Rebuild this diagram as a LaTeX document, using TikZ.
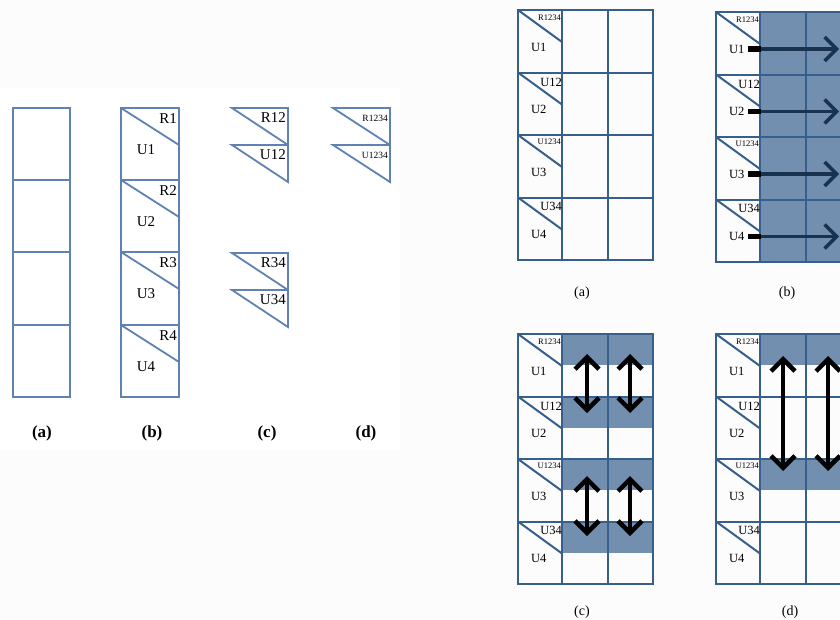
\documentclass[tikz,border=0pt]{standalone}
\usepackage{fontspec}
\setmainfont{Liberation Serif}
\usetikzlibrary{arrows.meta}
\definecolor{gridc}{RGB}{55,95,140}
\definecolor{leftc}{RGB}{95,130,178}
\definecolor{shadec}{RGB}{115,143,175}
\definecolor{navyc}{RGB}{25,50,80}
\definecolor{bgc}{RGB}{252,252,252}
\tikzset{
  leftline/.style={draw=leftc, line width=1.8pt},
  gridline/.style={draw=gridc, line width=2pt},
  biglbl/.style={inner sep=0pt, font=\fontsize{15}{17}\selectfont},
  smalllbl/.style={inner sep=0pt, font=\fontsize{9.5}{10}\selectfont},
  lbl/.style={inner sep=0pt, font=\fontsize{12.5}{14}\selectfont},
  tinylbl/.style={inner sep=0pt, font=\fontsize{8.5}{9}\selectfont},
  capleft/.style={inner sep=0pt, font=\fontsize{17}{19}\selectfont\bfseries},
  capright/.style={inner sep=0pt, font=\fontsize{14}{16}\selectfont},
  barb/.tip={Straight Barb[length=12pt,width=24pt]},
  harrow/.style={draw=navyc, line width=3.5pt, -{barb}},
  vharrow/.style={draw=black, line width=4.5pt, {barb}-{barb}},
}
\begin{document}
\begin{tikzpicture}[x=1pt,y=-1pt]
\useasboundingbox (0,0) rectangle (840,619);
\fill[bgc] (0,0) rectangle (840,619);
\fill[white] (0,88) rectangle (400,450);

% ---------------- left figure ----------------
% (a)
\draw[leftline] (13,108) rectangle (70,397);
\foreach \y in {180,252,325} \draw[leftline] (13,\y) -- (70,\y);
% (b)
\draw[leftline] (121,108) rectangle (179,397);
\foreach \y in {180,252,325} \draw[leftline] (121,\y) -- (179,\y);
\foreach \y/\i in {108/1,180/2,252/3,325/4}{
  \draw[leftline] (121,\y) -- (179,\y+37);
  \node[biglbl, anchor=east] (lbR\i) at (177,\y+11) {R\i};
  \node[biglbl] (lbU\i) at (146,\y+42) {U\i};
}
% (c)
\foreach \y/\t in {108/R12,145/U12,253/R34,290/U34}{
  \draw[leftline] (232,\y) -- (288,\y) -- (288,\y+37) -- cycle;
  \node[biglbl, anchor=east] (lc\t) at (286,\y+10) {\t};
}
% (d)
\foreach \y/\t in {108/R1234,145/U1234}{
  \draw[leftline] (333,\y) -- (390,\y) -- (390,\y+37) -- cycle;
  \node[smalllbl, anchor=east] (ld\t) at (388,\y+10) {\t};
}
\node[capleft] (capLa) at (42,433) {(a)};
\node[capleft] (capLb) at (152,433) {(b)};
\node[capleft] (capLc) at (267,433) {(c)};
\node[capleft] (capLd) at (366,433) {(d)};

% ---------------- right figure ----------------
% shading
\fill[shadec] (760,12) rectangle (900,262);
\foreach \k in {0,1,2,3} \fill[shadec] (563,334+\k*62.5) rectangle (653,365+\k*62.5);
\foreach \k in {0,2} \fill[shadec] (760,334+\k*62.5) rectangle (900,365+\k*62.5);

% grids
\foreach \L/\T/\R in {518/10/653, 716/12/900, 518/334/653, 716/334/900}{
  \draw[gridline] (\L,\T) rectangle (\R,\T+250);
  \foreach \k in {1,2,3} \draw[gridline] (\L,\T+\k*62.5) -- (\R,\T+\k*62.5);
  \foreach \c in {44,90,135} \draw[gridline] (\L+\c,\T) -- (\L+\c,\T+250);
  \foreach \k in {0,1,2,3} \draw[gridline] (\L,\T+\k*62.5) -- (\L+44,\T+\k*62.5+32);
}

% labels in the first columns
\foreach \L/\T/\p in {518/10/a, 716/12/b, 518/334/c, 716/334/d}{
  \node[tinylbl, anchor=east] (t\p1) at (\L+43,\T+8) {R1234};
  \node[lbl, anchor=east] (t\p2) at (\L+44,\T+62.5+10) {U12};
  \node[tinylbl, anchor=east] (t\p3) at (\L+43,\T+125+7) {U1234};
  \node[lbl, anchor=east] (t\p4) at (\L+44,\T+187.5+9) {U34};
  \foreach \k/\i in {0/1,1/2,2/3,3/4}
    \node[lbl, anchor=west] (u\p\i) at (\L+13,\T+\k*62.5+37) {U\i};
}

% (b) horizontal arrows
\foreach \k/\i in {0/1,1/2,2/3,3/4}{
  \coordinate (hs\i) at (748,12+\k*62.5+37);
  \coordinate (hm\i) at (761,12+\k*62.5+37);
  \coordinate (he\i) at (839,12+\k*62.5+37);
  \draw[black, line width=5.5pt] (hs\i) -- (hm\i);
  \draw[harrow] (hm\i) -- (he\i);
}

% (c) vertical double arrows
\foreach \x/\n in {587/1,630/2}{
  \coordinate (ca\n) at (\x,354);
  \coordinate (cb\n) at (\x,413);
  \coordinate (cc\n) at (\x,476);
  \coordinate (cd\n) at (\x,536);
  \draw[vharrow] (ca\n) -- (cb\n);
  \draw[vharrow] (cc\n) -- (cd\n);
}
% (d) vertical double arrows
\foreach \x/\n in {783/1,828/2}{
  \coordinate (da\n) at (\x,356);
  \coordinate (db\n) at (\x,471);
  \draw[vharrow] (da\n) -- (db\n);
}

\node[capright] (capRa) at (582,293) {(a)};
\node[capright] (capRb) at (787,293) {(b)};
\node[capright] (capRc) at (582,612) {(c)};
\node[capright] (capRd) at (790,612) {(d)};
\end{tikzpicture}
\end{document}
